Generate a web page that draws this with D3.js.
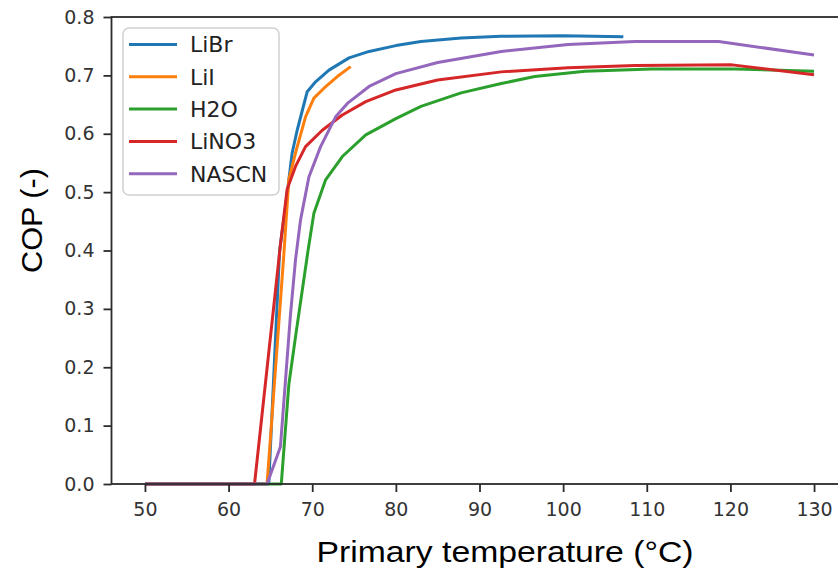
<!DOCTYPE html>
<html>
<head>
<meta charset="utf-8">
<script src="https://cdn.jsdelivr.net/npm/d3@7"></script>
<style>
  html, body { margin: 0; padding: 0; background: #fff; }
  svg { display: block; }
</style>
</head>
<body>
<svg id="chart" width="838" height="573"></svg>
<script>
// Series names and colours
const seriesNames = ["LiBr", "LiI", "H2O", "LiNO3", "NASCN"];
const seriesColors = ["#1f77b4", "#ff7f0e", "#2ca02c", "#d62728", "#9467bd"];

// Primary temperature (°C) and COP (-) for each working pair
const libr = [
  [50, 0], [64.8, 0], [66.1, 0.40], [66.8, 0.474], [67.6, 0.567], [68.2, 0.606],
  [69.4, 0.672], [70.4, 0.689], [72, 0.709], [74.4, 0.730], [76.8, 0.741],
  [80, 0.751], [83, 0.758], [87.8, 0.764], [92.6, 0.767], [100, 0.768], [107.2, 0.766]
];
const lii = [
  [50, 0], [64.6, 0], [66.6, 0.392], [67.2, 0.521], [68, 0.567], [69.2, 0.629],
  [70.2, 0.661], [71.4, 0.678], [73, 0.698], [74.6, 0.715]
];
const h2o = [
  [50, 0], [66.3, 0], [67.2, 0.17], [68, 0.252], [69.5, 0.40], [70.2, 0.464],
  [71.6, 0.521], [73.6, 0.561], [76.4, 0.598], [80, 0.626], [83, 0.647],
  [87.8, 0.670], [92.6, 0.686], [96.6, 0.698], [102.6, 0.707], [110.6, 0.711],
  [120.6, 0.711], [130, 0.707]
];
const lino3 = [
  [50, 0], [63.1, 0], [66.2, 0.41], [67, 0.505], [68, 0.544], [69.2, 0.578],
  [71.2, 0.606], [73.6, 0.632], [76.4, 0.655], [80, 0.675], [85, 0.692],
  [92.6, 0.706], [100.6, 0.713], [108.6, 0.717], [120.2, 0.718], [130, 0.701]
];
const nascn = [
  [50, 0], [64.6, 0], [66.2, 0.064], [67.4, 0.29], [68, 0.384], [68.6, 0.452],
  [69.6, 0.526], [71, 0.578], [72.8, 0.629], [74.2, 0.652], [76.8, 0.681],
  [80, 0.703], [85, 0.722], [92.6, 0.741], [100.6, 0.753], [108.6, 0.758],
  [118.6, 0.758], [130, 0.735]
];
const seriesData = [libr, lii, h2o, lino3, nascn];

// Tick values
const xTicks = [50, 60, 70, 80, 90, 100, 110, 120, 130];
const yTicks = [0.0, 0.1, 0.2, 0.3, 0.4, 0.5, 0.6, 0.7, 0.8];

const svg = d3.select("#chart");
svg.append("rect").attr("width", 838).attr("height", 573).attr("fill", "#fff");

const x = d3.scaleLinear().domain([46, 134]).range([111.5, 847.5]);
const y = d3.scaleLinear().domain([0, 0.8]).range([484, 17]);

const axisColor = "#2b2b2b";
const tickFont = "DejaVu Sans, sans-serif";

// Data lines
const line = d3.line().x(d => x(d[0])).y(d => y(d[1]));
const plot = svg.append("g");
seriesData.forEach((s, i) => {
  plot.append("path")
    .datum(s)
    .attr("d", line)
    .attr("fill", "none")
    .attr("stroke", seriesColors[i])
    .attr("stroke-width", 3)
    .attr("stroke-linejoin", "round")
    .attr("stroke-linecap", "butt");
});

// Axes
const xAxis = d3.axisBottom(x).tickValues(xTicks).tickFormat(d3.format("d"))
  .tickSize(8).tickPadding(11).tickSizeOuter(0);
const yAxis = d3.axisLeft(y).tickValues(yTicks).tickFormat(d3.format(".1f"))
  .tickSize(8).tickPadding(9).tickSizeOuter(0);

const gx = svg.append("g").attr("transform", `translate(0,${y(0)})`).call(xAxis);
const gy = svg.append("g").attr("transform", `translate(${x(46)},0)`).call(yAxis);

[gx, gy].forEach(g => {
  g.select(".domain").remove();
  g.selectAll(".tick line").attr("stroke", axisColor).attr("stroke-width", 1.8);
  g.selectAll(".tick text")
    .attr("fill", "#333")
    .style("font-family", tickFont)
    .style("font-size", "19px");
});

// Frame (spines)
svg.append("rect")
  .attr("x", x(46)).attr("y", y(0.8))
  .attr("width", x(134) - x(46)).attr("height", y(0) - y(0.8))
  .attr("fill", "none")
  .attr("stroke", axisColor)
  .attr("stroke-width", 1.8);

// Legend
const legend = svg.append("g");
legend.append("rect")
  .attr("x", 123).attr("y", 28).attr("width", 156).attr("height", 167)
  .attr("rx", 6)
  .attr("fill", "#fff").attr("fill-opacity", 0.85)
  .attr("stroke", "#d0d0d0").attr("stroke-width", 1.5);
seriesNames.forEach((name, i) => {
  const yy = 44.5 + i * 32.3;
  legend.append("line")
    .attr("x1", 129).attr("x2", 177).attr("y1", yy).attr("y2", yy)
    .attr("stroke", seriesColors[i]).attr("stroke-width", 3);
  legend.append("text")
    .attr("x", 190).attr("y", yy)
    .attr("dy", "0.36em")
    .attr("fill", "#222")
    .style("font-family", tickFont)
    .style("font-size", "22px")
    .text(name);
});

// Axis titles
svg.append("text")
  .attr("x", 505).attr("y", 562)
  .attr("text-anchor", "middle")
  .attr("textLength", 377).attr("lengthAdjust", "spacingAndGlyphs")
  .attr("fill", "#000")
  .style("font-family", "Liberation Sans, Arial, sans-serif")
  .style("font-size", "29px")
  .text("Primary temperature (°C)");

svg.append("text")
  .attr("transform", "translate(42,220.5) rotate(-90)")
  .attr("text-anchor", "middle")
  .attr("textLength", 105).attr("lengthAdjust", "spacingAndGlyphs")
  .attr("fill", "#000")
  .style("font-family", "Liberation Sans, Arial, sans-serif")
  .style("font-size", "30px")
  .text("COP (-)");
</script>
</body>
</html>
